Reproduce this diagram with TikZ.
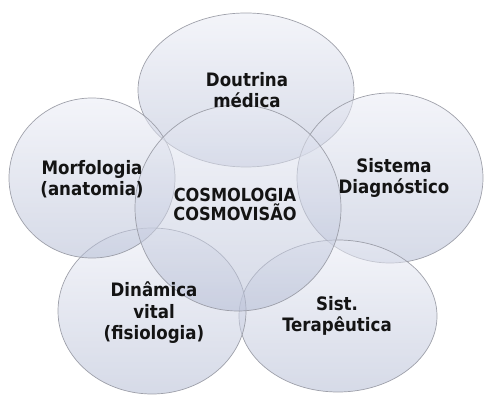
\documentclass[tikz,border=0pt]{standalone}
\usepackage{fontspec}
\setmainfont{DejaVu Sans Condensed}
\usetikzlibrary{shapes.geometric}
\definecolor{topc}{RGB}{234,236,245}
\definecolor{botc}{RGB}{180,188,212}
\definecolor{edgec}{RGB}{150,152,162}
\begin{document}
\begin{tikzpicture}[x=1pt,y=-1pt,
  bubble/.style={ellipse, draw=edgec, line width=0.7pt, inner sep=0pt,
    top color=topc, bottom color=botc, fill opacity=0.55, draw opacity=0.9},
  lbl/.style={font=\fontsize{18.5}{21.5}\selectfont\bfseries, text=black!92, align=center, inner sep=0pt}]
\useasboundingbox (0,0) rectangle (484,395);
\node[bubble, minimum width=216pt, minimum height=154pt] (doutrina) at (246,90) {};
\node[bubble, minimum width=186pt, minimum height=170pt] (diag) at (390,178) {};
\node[bubble, minimum width=198pt, minimum height=152pt] (terap) at (338,316) {};
\node[bubble, minimum width=188pt, minimum height=166pt] (dinam) at (152,311) {};
\node[bubble, minimum width=166pt, minimum height=160pt] (morfo) at (92,178) {};
\node[bubble, minimum width=206pt, minimum height=206pt] (cosmo) at (238,208) {};
\node[lbl] (tdoutrina) at (247,90) {Doutrina\\médica};
\node[lbl] (tdiag) at (394,178) {Sistema\\Diagnóstico};
\node[lbl] (tterap) at (337,316) {Sist.\\Terapêutica};
\node[lbl] (tdinam) at (154,313) {Dinâmica\\vital\\(fisiologia)};
\node[lbl] (tmorfo) at (92,179) {Morfologia\\(anatomia)};
\node[lbl, font=\fontsize{18}{19}\selectfont\bfseries] (tcosmo) at (235,204) {COSMOLOGIA\\COSMOVISÃO};
\end{tikzpicture}
\end{document}
